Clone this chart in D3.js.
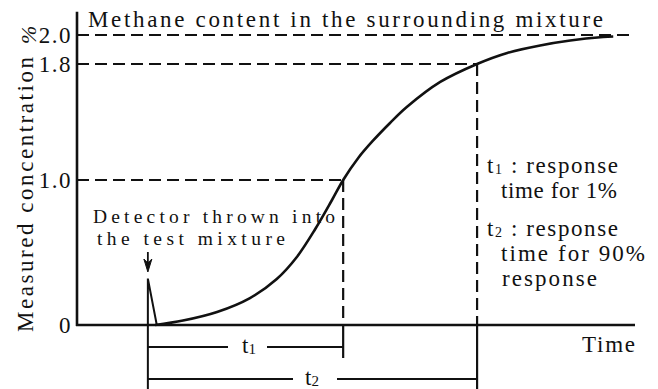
<!DOCTYPE html>
<html>
<head>
<meta charset="utf-8">
<script src="https://cdn.jsdelivr.net/npm/d3@7"></script>
<style>
  html, body { margin: 0; padding: 0; background: #fff; }
  svg { display: block; }
</style>
</head>
<body>
<svg id="chart" width="658" height="389"></svg>
<script>
// Response curve of a methane detector (time in arbitrary units, concentration in %)
const curveTime = [14.0, 19.0, 25.1, 31.0, 35.8, 39.4, 42.7, 45.7, 47.7, 50.4, 53.0, 56.1, 59.1, 65.1, 71.7, 77.1, 83.0, 88.4, 94.3, 96.1];
const curveConc = [0, 0.031, 0.090, 0.186, 0.317, 0.469, 0.662, 0.862, 1.0, 1.152, 1.269, 1.393, 1.503, 1.676, 1.8, 1.876, 1.928, 1.962, 1.986, 1.990];

// Short disturbance when the detector enters the mixture
const spikeTime = [12.7, 12.7, 14.3];
const spikeConc = [0, 0.32, 0];

// Marked instants: detector thrown in, t1 (1.0 %), t2 (1.8 %)
const eventTime = { thrown: 12.7, t1: 47.7, t2: 71.7 };
const levelValues = [1.0, 1.8, 2.0];
const yTickValues = [0, 1.0, 1.8, 2.0];
const yTickLabels = ["0", "1.0", "1.8", "2.0"];

const serif = "Liberation Serif";
const svg = d3.select("#chart");
const ink = "#111";

const x = d3.scaleLinear().domain([0, 100]).range([77, 635]);
const y = d3.scaleLinear().domain([0, 2]).range([325, 35]);

const dash = "12,6";

// Dashed reference levels
const levelEnd = { 1.0: eventTime.t1, 1.8: eventTime.t2, 2.0: 100 };
levelValues.forEach(v => {
  svg.append("line")
    .attr("x1", x(0)).attr("x2", x(levelEnd[v]))
    .attr("y1", y(v)).attr("y2", y(v))
    .attr("stroke", ink).attr("stroke-width", 2.2)
    .attr("stroke-dasharray", dash);
});

// Dashed verticals at t1 and t2
[["t1", 1.0], ["t2", 1.8]].forEach(([k, v]) => {
  svg.append("line")
    .attr("x1", x(eventTime[k])).attr("x2", x(eventTime[k]))
    .attr("y1", y(v)).attr("y2", y(0))
    .attr("stroke", ink).attr("stroke-width", 2.2)
    .attr("stroke-dasharray", dash);
});

// Axes
const axisTop = y(2.16);
svg.append("line").attr("x1", x(0)).attr("x2", x(0)).attr("y1", axisTop).attr("y2", y(0) + 1)
  .attr("stroke", ink).attr("stroke-width", 2.6);
svg.append("line").attr("x1", x(0) - 1).attr("x2", x(100)).attr("y1", y(0)).attr("y2", y(0))
  .attr("stroke", ink).attr("stroke-width", 2.6);

// Y tick labels
svg.selectAll("text.ytick").data(yTickValues).enter().append("text")
  .attr("class", "ytick")
  .attr("x", x(0) - 5)
  .attr("y", d => y(d) + 7.5)
  .attr("text-anchor", "end")
  .attr("font-size", 23)
  .attr("letter-spacing", 1.5)
  .text((d, i) => yTickLabels[i]);

// Response curve
const pts = curveTime.map((t, i) => [t, curveConc[i]]);
svg.append("path")
  .attr("d", d3.line().x(d => x(d[0])).y(d => y(d[1])).curve(d3.curveCatmullRom.alpha(0.5))(pts))
  .attr("fill", "none").attr("stroke", ink).attr("stroke-width", 2.6);

// Entry spike
const spk = spikeTime.map((t, i) => [t, spikeConc[i]]);
svg.append("path")
  .attr("d", d3.line().x(d => x(d[0])).y(d => y(d[1]))(spk))
  .attr("fill", "none").attr("stroke", ink).attr("stroke-width", 2);

// Arrow pointing at the entry moment
const ax = x(eventTime.thrown);
svg.append("line").attr("x1", ax).attr("x2", ax).attr("y1", 252).attr("y2", 268)
  .attr("stroke", ink).attr("stroke-width", 1.8);
svg.append("path")
  .attr("d", `M${ax - 4},259 L${ax},272 L${ax + 4},259 L${ax},263 Z`)
  .attr("fill", ink).attr("stroke", ink).attr("stroke-width", 1);

// Time-span brackets below the axis
const br1 = 347, br2 = 379;
svg.append("line").attr("x1", ax).attr("x2", ax).attr("y1", y(0)).attr("y2", 389)
  .attr("stroke", ink).attr("stroke-width", 2);
svg.append("line").attr("x1", x(eventTime.t1)).attr("x2", x(eventTime.t1)).attr("y1", y(0)).attr("y2", 358)
  .attr("stroke", ink).attr("stroke-width", 2.2);
svg.append("line").attr("x1", x(eventTime.t2)).attr("x2", x(eventTime.t2)).attr("y1", y(0)).attr("y2", 389)
  .attr("stroke", ink).attr("stroke-width", 2.2);

function bracket(yPos, tEnd, labelX, gapL, gapR, sub) {
  svg.append("line").attr("x1", ax).attr("x2", gapL).attr("y1", yPos).attr("y2", yPos)
    .attr("stroke", ink).attr("stroke-width", 2);
  svg.append("line").attr("x1", gapR).attr("x2", x(tEnd)).attr("y1", yPos).attr("y2", yPos)
    .attr("stroke", ink).attr("stroke-width", 2);
  const t = svg.append("text").attr("x", labelX).attr("y", yPos + 6).attr("font-size", 23);
  t.append("tspan").text("t");
  t.append("tspan").attr("font-size", 15).attr("dy", 1).text(sub);
}
bracket(br1, eventTime.t1, 242, 228, 267, "1");
bracket(br2, eventTime.t2, 305, 293, 337, "2");

// Title over the 2.0 % level
svg.append("text")
  .attr("x", 88).attr("y", 27)
  .attr("font-size", 23)
  .attr("textLength", 515).attr("lengthAdjust", "spacing")
  .text("Methane content in the surrounding mixture");

// Detector annotation
svg.append("text").attr("x", 93).attr("y", 223).attr("font-size", 19.5)
  .attr("textLength", 242).attr("lengthAdjust", "spacing")
  .text("Detector thrown into");
svg.append("text").attr("x", 97).attr("y", 245).attr("font-size", 19.5)
  .attr("textLength", 188).attr("lengthAdjust", "spacing")
  .text("the test mixture");

// Legend for t1 / t2
function tLine(xPos, yPos, sub, rest) {
  const t = svg.append("text").attr("x", xPos).attr("y", yPos).attr("font-size", 23)
    .attr("letter-spacing", 1.6);
  t.append("tspan").text("t");
  t.append("tspan").attr("font-size", 14).attr("dy", 1).text(sub);
  t.append("tspan").attr("dy", -1).text(rest);
}
tLine(487, 173, "1", " : response");
svg.append("text").attr("x", 501).attr("y", 198).attr("font-size", 23)
  .attr("textLength", 116).attr("lengthAdjust", "spacing").text("time for 1%");
tLine(487, 236, "2", " : response");
svg.append("text").attr("x", 501).attr("y", 261).attr("font-size", 23)
  .attr("textLength", 144).attr("lengthAdjust", "spacing").text("time for 90%");
svg.append("text").attr("x", 502).attr("y", 286).attr("font-size", 23)
  .attr("textLength", 95).attr("lengthAdjust", "spacing").text("response");

// Axis titles
svg.append("text").attr("x", 582).attr("y", 352).attr("font-size", 23)
  .attr("textLength", 53).attr("lengthAdjust", "spacing").text("Time");

svg.append("text")
  .attr("transform", "translate(33,332) rotate(-90)")
  .attr("font-size", 23)
  .attr("textLength", 275).attr("lengthAdjust", "spacing")
  .text("Measured concentration");
svg.append("text")
  .attr("transform", "translate(36,44) rotate(-90)")
  .attr("font-size", 22).attr("font-style", "italic")
  .text("%");

// Shared type setting
svg.selectAll("text").style("font-family", serif).style("fill", ink);
</script>
</body>
</html>
